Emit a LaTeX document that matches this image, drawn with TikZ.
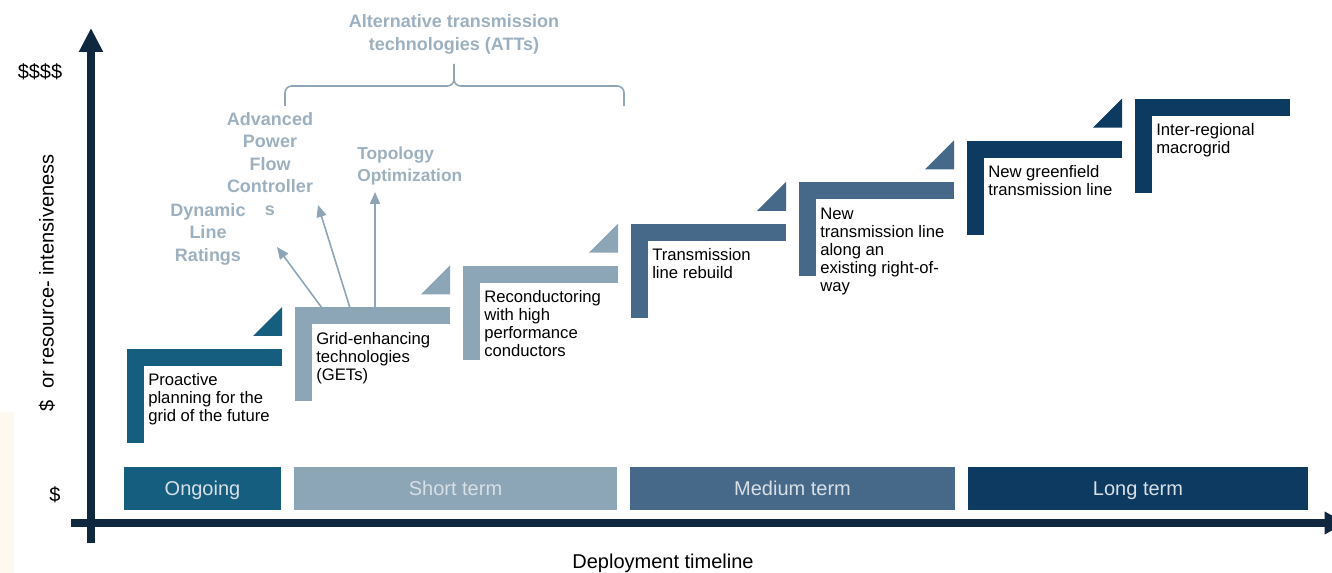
\documentclass[tikz,border=0pt]{standalone}
\usepackage{fontspec}
\setmainfont{Liberation Sans}
\usetikzlibrary{arrows.meta}
\definecolor{cOn}{HTML}{165E80}
\definecolor{cSh}{HTML}{8CA5B7}
\definecolor{cMe}{HTML}{46698A}
\definecolor{cLo}{HTML}{0C3A60}
\definecolor{cAx}{HTML}{10283F}
\definecolor{cAtt}{HTML}{9DB0C0}
\definecolor{cArr}{HTML}{8FA5B7}
\definecolor{cLab}{HTML}{D8DFE5}
\definecolor{cCream}{HTML}{FDF9EE}
\begin{document}
\begin{tikzpicture}[x=0.75pt,y=-0.75pt,
  steptext/.style={anchor=base west, align=left, inner sep=0pt, font=\fontsize{12.5}{13.6}\selectfont, text=black},
  termbox/.style={minimum height=32.25pt, inner sep=0pt, text height=12pt, text depth=1pt, text=cLab, font=\fontsize{15}{18}\selectfont},
  att/.style={text=cAtt, font=\bfseries\fontsize{13.5}{16.9}\selectfont, inner sep=0pt, align=center},
  attarrow/.style={draw=cArr, line width=1.2pt, -{Triangle[width=7.5pt,length=9pt]}},
  axis/.style={draw=cAx, line width=6pt},
  axlabel/.style={inner sep=0pt, font=\fontsize{15}{18}\selectfont, text=black},
]
\useasboundingbox (0,0) rectangle (1332,573);
\fill[cCream] (0,412) rectangle (14,573);

% axes
\coordinate (ybot) at (91,543);
\coordinate (ytop) at (91,28);
\coordinate (xleft) at (71,523);
\coordinate (xright) at (1346,523);
\draw[axis, -{Triangle[width=17pt,length=18pt]}] (ybot) -- (ytop);
\draw[axis, -{Triangle[width=16pt,length=16pt]}] (xleft) -- (xright);

\node[axlabel] (dollars) at (40,72) {\$\$\$\$};
\node[axlabel] (dollar) at (55,495) {\$};
\node[axlabel, rotate=90] (ylab) at (47,283) {\$\hspace{0.3em} or resource- intensiveness};
\node[axlabel] (xlab) at (663,563) {Deployment timeline};

% term boxes
\node[termbox, fill=cOn, minimum width=117.75pt] (ongoing) at (202.5,488.5) {Ongoing};
\node[termbox, fill=cSh, minimum width=242.25pt] (short) at (455.5,488.5) {Short term};
\node[termbox, fill=cMe, minimum width=243.75pt] (medium) at (792.5,488.5) {Medium term};
\node[termbox, fill=cLo, minimum width=255pt] (long) at (1138,488.5) {Long term};

% steps
\foreach \i/\c in {0/cOn,1/cSh,2/cSh,3/cMe,4/cMe,5/cLo,6/cLo}{
  \pgfmathsetmacro{\xo}{127+168*\i}
  \pgfmathsetmacro{\yo}{349-41.67*\i}
  \fill[\c] (\xo,\yo) rectangle (\xo+155,\yo+17);
  \fill[\c] (\xo,\yo) rectangle (\xo+17,\yo+94);
  \ifnum\i<6
    \fill[\c] (\xo+155,\yo-42) -- (\xo+155,\yo-13) -- (\xo+126,\yo-13) -- cycle;
  \fi
}

% step texts (anchor = baseline of last line)
\node[steptext] (s1) at (148,422) {Proactive\\planning for the\\grid of the future};
\node[steptext] (s2) at (316,381) {Grid-enhancing\\technologies\\(GETs)};
\node[steptext] (s3) at (484,357) {Reconductoring\\with high\\performance\\conductors};
\node[steptext] (s4) at (652,279) {Transmission\\line rebuild};
\node[steptext] (s5) at (820,292) {New\\transmission line\\along an\\existing right-of-\\way};
\node[steptext] (s6) at (988,196) {New greenfield\\transmission line};
\node[steptext] (s7) at (1156,154) {Inter-regional\\macrogrid};

% ATT labels
\node[att] (att) at (454,34.5) {Alternative transmission\\technologies (ATTs)};
\draw[cArr, line width=1.2pt, rounded corners=5pt] (285,106) |- (454,86) -- (454,64);
\draw[cArr, line width=1.2pt, rounded corners=5pt] (454,72) |- (624,86) -- (624,106);
\node[att] (apfc) at (270,164) {Advanced\\Power\\Flow\\Controller\\s};
\node[att, align=left, anchor=west, font=\bfseries\fontsize{13}{16.9}\selectfont] (topo) at (357,166) {Topology\\Optimization};
\node[att] (dlr) at (208,234) {Dynamic\\Line\\Ratings};

\coordinate (a1s) at (322,308); \coordinate (a1e) at (277,247);
\coordinate (a2s) at (350,308); \coordinate (a2e) at (318,205);
\coordinate (a3s) at (375,308); \coordinate (a3e) at (375,192);
\draw[attarrow] (a1s) -- (a1e);
\draw[attarrow] (a2s) -- (a2e);
\draw[attarrow] (a3s) -- (a3e);
\end{tikzpicture}
\end{document}
